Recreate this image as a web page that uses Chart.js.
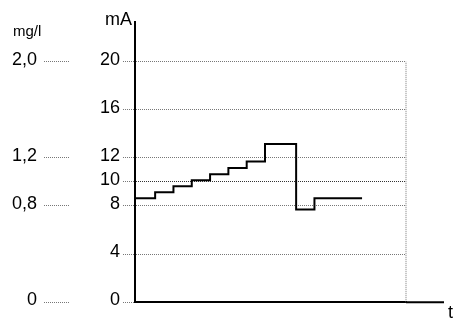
<!DOCTYPE html>
<html>
<head>
<meta charset="utf-8">
<script src="https://cdn.jsdelivr.net/npm/chart.js@4/dist/chart.umd.min.js"></script>
<style>
    html, body { margin: 0; padding: 0; background: #fff; }
    #wrap { width: 457px; height: 320px; }
</style>
</head>
<body>
<div id="wrap"><canvas id="chartCanvas"></canvas></div>
<script>
// Dados do gráfico (tempo em passos, corrente em mA)
const stepTimes = [0, 1.1, 2.1, 3.1, 4.1, 5.1, 6.1, 7.1, 8.8, 9.8, 12.4];
const stepValues = [8.65, 9.15, 9.65, 10.15, 10.65, 11.15, 11.7, 13.15, 7.7, 8.65, 8.65];
const tEnd = 14.8;
const mATicks = [0, 4, 8, 10, 12, 16, 20];
const mgTicks = [0, 0.8, 1.2, 2.0];
const mgLabels = ['0', '0,8', '1,2', '2,0'];

const font = { family: "'Liberation Sans', Arial, sans-serif", size: 18 };

// Eixo x prolongado, "t", "mA" e "mg/l"
const extras = {
    id: 'extras',
    afterDraw(chart) {
        const { ctx, chartArea } = chart;
        ctx.save();
        ctx.strokeStyle = '#000';
        ctx.lineWidth = 2;
        ctx.beginPath();
        ctx.moveTo(chartArea.right, chartArea.bottom);
        ctx.lineTo(444, chartArea.bottom);
        ctx.stroke();
        ctx.fillStyle = '#000';
        ctx.font = "18px 'Liberation Sans', Arial, sans-serif";
        ctx.textBaseline = 'top';
        ctx.textAlign = 'left';
        ctx.fillText('t', 448, chartArea.bottom + 2);
        ctx.textBaseline = 'alphabetic';
        ctx.textAlign = 'right';
        ctx.fillText('mA', 132, 25);
        ctx.font = "15px 'Liberation Sans', Arial, sans-serif";
        ctx.textAlign = 'left';
        ctx.fillText('mg/l', 13, 36);
        ctx.restore();
    }
};

const ctx = document.getElementById('chartCanvas').getContext('2d');
const myChart = new Chart(ctx, {
    type: 'line',
    data: {
        datasets: [{
            data: stepTimes.map((t, i) => ({ x: t, y: stepValues[i] })),
            stepped: true,
            borderColor: '#000',
            borderWidth: 2,
            pointRadius: 0,
            fill: false
        }, {
            data: [{ x: tEnd, y: 0 }, { x: tEnd, y: 20 }],
            borderColor: '#777',
            borderWidth: 1,
            borderDash: [1, 1],
            pointRadius: 0,
            clip: false
        }]
    },
    options: {
        responsive: true,
        maintainAspectRatio: false,
        animation: false,
        layout: { padding: { top: 22, right: 51, bottom: 0, left: 0 } },
        plugins: {
            legend: { display: false },
            tooltip: { enabled: false }
        },
        scales: {
            x: {
                type: 'linear',
                min: 0,
                max: tEnd,
                grid: { display: false },
                ticks: { display: false },
                border: { color: '#000', width: 2 },
                afterFit: (s) => { s.height = 15; }
            },
            y: {
                position: 'left',
                weight: 0,
                min: 0,
                max: 23.3,
                afterBuildTicks: (s) => { s.ticks = mATicks.map(v => ({ value: v })); },
                grid: {
                    color: (c) => c.tick && c.tick.value === 10 ? '#333' : '#777',
                    lineWidth: 1,
                    tickLength: 12,
                    tickColor: '#777',
                    tickBorderDash: [1, 1]
                },
                border: { color: '#000', width: 2, dash: [1, 1] },
                ticks: { color: '#000', font: font, padding: 3, labelOffset: -2 },
                afterFit: (s) => { s.width = 65; }
            },
            y2: {
                position: 'left',
                weight: 1,
                min: 0,
                max: 2.33,
                afterBuildTicks: (s) => { s.ticks = mgTicks.map(v => ({ value: v })); },
                grid: {
                    drawOnChartArea: false,
                    tickLength: 26,
                    tickColor: '#777',
                    tickBorderDash: [1, 1]
                },
                border: { display: false },
                ticks: {
                    color: '#000',
                    font: font,
                    padding: 7,
                    labelOffset: -2,
                    callback: (v, i) => mgLabels[i]
                },
                afterFit: (s) => { s.width = 70; }
            }
        }
    },
    plugins: [extras]
});
</script>
</body>
</html>
